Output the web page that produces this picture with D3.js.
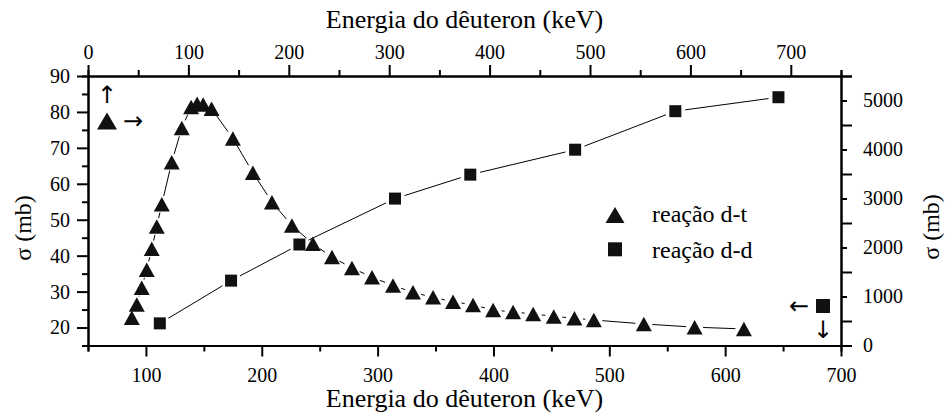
<!DOCTYPE html>
<html lang="pt">
<head>
<meta charset="UTF-8">
<title>Seção de choque d-t e d-d</title>
<script src="https://d3js.org/d3.v7.min.js"></script>
<style>
    body { margin: 0; background: #fff; }
    svg { display: block; font-family: "Liberation Serif", "Times New Roman", Tinos, "DejaVu Serif", serif; }
    .axis path, .axis line { stroke: #000; stroke-width: 2; }
    .axis text { font-family: "Liberation Serif", "Times New Roman", Tinos, "DejaVu Serif", serif; font-size: 20px; fill: #000; }
    .title { font-family: "Liberation Serif", "Times New Roman", Tinos, "DejaVu Serif", serif; fill: #000; }
    .arrow { font-family: "DejaVu Sans", sans-serif; font-size: 24px; fill: #000; }
</style>
</head>
<body>
<svg id="chart"></svg>
<script>
// reação d-t (eixo superior / eixo esquerdo)
const dtEnergy = [43.6, 48.6, 53.5, 58.5, 63.5, 68.5, 73.5, 83.4, 93.4, 102.7, 108.7, 114.7, 123.1,
    144.3, 164.2, 183.2, 203.1, 224, 243, 262.9, 282.9, 303.8, 323.7, 343.7, 363.6, 383.5,
    403.5, 423.4, 443.4, 463.9, 484.5, 503.8, 553.6, 604.2, 653.3];
const dtSigma = [22.7, 26.4, 31.1, 36.1, 41.9, 48.1, 54.3, 66.0, 75.5, 81.4, 82.3, 82.1, 80.9,
    72.6, 63.1, 54.9, 48.4, 43.3, 39.6, 36.6, 34.0, 31.7, 29.8, 28.4, 27.2, 26.3,
    24.9, 24.3, 23.8, 23.1, 22.6, 22.1, 21.0, 20.1, 19.6];

// reação d-d (eixo inferior / eixo direito)
const ddEnergy = [112, 173.5, 232.5, 315, 380, 470.5, 557, 646];
const ddSigma = [452, 1324, 2061, 2998, 3487, 3996, 4782, 5067];

// ticks
const bottomTicks = [100, 200, 300, 400, 500, 600, 700];
const topTicks = [0, 100, 200, 300, 400, 500, 600, 700];
const leftTicks = [20, 30, 40, 50, 60, 70, 80, 90];
const rightTicks = [0, 1000, 2000, 3000, 4000, 5000];

const W = 945, H = 417;
const m = { left: 88, right: 104, top: 76, bottom: 71.5 };
const iw = W - m.left - m.right, ih = H - m.top - m.bottom;

const svg = d3.select("#chart").attr("width", W).attr("height", H);
const g = svg.append("g").attr("transform", `translate(${m.left},${m.top})`);

const xBottom = d3.scaleLinear().domain([50, 700]).range([0, iw]);
const xTop = d3.scaleLinear().domain([0, 750]).range([0, iw]);
const yLeft = d3.scaleLinear().domain([15, 90]).range([ih, 0]);
const yRight = d3.scaleLinear().domain([0, 5500]).range([ih, 0]);

const MAJ = 11, MIN = 6;
const fmt = d3.format("d");

// eixos: menores primeiro, maiores por cima
g.append("g").attr("class", "axis").attr("transform", `translate(0,${ih})`)
    .call(d3.axisBottom(xBottom).tickValues(d3.range(50, 701, 100)).tickSize(MIN).tickFormat(""));
g.append("g").attr("class", "axis").attr("transform", `translate(0,${ih})`)
    .call(d3.axisBottom(xBottom).tickValues(bottomTicks).tickSize(MAJ).tickSizeOuter(0).tickPadding(11).tickFormat(fmt));

g.append("g").attr("class", "axis")
    .call(d3.axisTop(xTop).tickValues(d3.range(50, 751, 100)).tickSize(MIN).tickFormat(""));
g.append("g").attr("class", "axis")
    .call(d3.axisTop(xTop).tickValues(topTicks).tickSize(MAJ).tickSizeOuter(0).tickPadding(6).tickFormat(fmt));

g.append("g").attr("class", "axis")
    .call(d3.axisLeft(yLeft).tickValues(d3.range(15, 90, 10)).tickSize(MIN).tickFormat(""));
g.append("g").attr("class", "axis")
    .call(d3.axisLeft(yLeft).tickValues(leftTicks).tickSize(MAJ).tickSizeOuter(0).tickPadding(7).tickFormat(fmt));

// eixo direito: ticks rotulados curtos, intermediários longos
g.append("g").attr("class", "axis").attr("transform", `translate(${iw},0)`)
    .call(d3.axisRight(yRight).tickValues(d3.range(500, 5501, 1000)).tickSize(MAJ).tickFormat(""));
g.append("g").attr("class", "axis").attr("transform", `translate(${iw},0)`)
    .call(d3.axisRight(yRight).tickValues(rightTicks).tickSize(MIN).tickSizeOuter(0).tickPadding(16).tickFormat(fmt));

g.selectAll(".axis").attr("font-family", null).attr("font-size", null);

// títulos
svg.append("text").attr("class", "title").attr("x", m.left + iw / 2).attr("y", 28)
    .attr("text-anchor", "middle").style("font-size", "26px").text("Energia do dêuteron (keV)");
svg.append("text").attr("class", "title").attr("x", m.left + iw / 2).attr("y", 407)
    .attr("text-anchor", "middle").style("font-size", "26px").text("Energia do dêuteron (keV)");
svg.append("text").attr("class", "title").attr("transform", "translate(31,228) rotate(-90)")
    .attr("text-anchor", "middle").style("font-size", "24px").text("σ (mb)");
svg.append("text").attr("class", "title").attr("transform", "translate(939,227) rotate(-90)")
    .attr("text-anchor", "middle").style("font-size", "24px").text("σ (mb)");

// símbolos
function triPath(w, h) {
    const p = d3.path();
    p.moveTo(0, -h / 2); p.lineTo(w / 2, h / 2); p.lineTo(-w / 2, h / 2); p.closePath();
    return p.toString();
}

// linhas com intervalo junto aos símbolos
function gappedSegments(pts, gap) {
    const segs = [];
    for (let i = 0; i < pts.length - 1; i++) {
        const [x1, y1] = pts[i], [x2, y2] = pts[i + 1];
        const d = Math.hypot(x2 - x1, y2 - y1);
        if (d <= 2 * gap) continue;
        const ux = (x2 - x1) / d, uy = (y2 - y1) / d;
        segs.push([x1 + ux * gap, y1 + uy * gap, x2 - ux * gap, y2 - uy * gap]);
    }
    return segs;
}

const dtPts = dtEnergy.map((e, i) => [xTop(e), yLeft(dtSigma[i])]);
const ddPts = ddEnergy.map((e, i) => [xBottom(e), yRight(ddSigma[i])]);

g.selectAll(".dt-line").data(gappedSegments(dtPts, 8.5)).join("line")
    .attr("x1", d => d[0]).attr("y1", d => d[1]).attr("x2", d => d[2]).attr("y2", d => d[3])
    .attr("stroke", "#000").attr("stroke-width", 1);
g.selectAll(".dd-line").data(gappedSegments(ddPts, 10)).join("line")
    .attr("x1", d => d[0]).attr("y1", d => d[1]).attr("x2", d => d[2]).attr("y2", d => d[3])
    .attr("stroke", "#000").attr("stroke-width", 1);

g.selectAll(".dt").data(dtPts).join("path").attr("class", "dt")
    .attr("d", triPath(16, 14.5))
    .attr("transform", d => `translate(${d[0]},${d[1]})`)
    .attr("fill", "#111");

const sq = 12;
g.selectAll(".dd").data(ddPts).join("rect").attr("class", "dd")
    .attr("x", d => d[0] - sq / 2).attr("y", d => d[1] - sq / 2)
    .attr("width", sq).attr("height", sq).attr("fill", "#111");

// legenda
const leg = svg.append("g").attr("transform", "translate(615,215)");
leg.append("path").attr("d", triPath(19, 16)).attr("fill", "#111");
leg.append("text").attr("class", "title").attr("x", 37).attr("y", 7)
    .style("font-size", "24px").text("reação d-t");
leg.append("rect").attr("x", -7).attr("y", 34.3 - 7).attr("width", 14).attr("height", 14).attr("fill", "#111");
leg.append("text").attr("class", "title").attr("x", 37).attr("y", 43.3)
    .style("font-size", "24px").text("reação d-d");

// indicadores de eixo
const aT = svg.append("g").attr("transform", "translate(107,121)");
aT.append("path").attr("d", triPath(20, 17)).attr("fill", "#111");
aT.append("text").attr("class", "arrow").attr("x", 0).attr("y", -26)
    .attr("text-anchor", "middle").attr("dominant-baseline", "central").text("↑");
aT.append("text").attr("class", "arrow").attr("x", 26).attr("y", 0)
    .attr("text-anchor", "middle").attr("dominant-baseline", "central").text("→");

const aS = svg.append("g").attr("transform", "translate(823,306)");
aS.append("rect").attr("x", -7).attr("y", -7).attr("width", 14).attr("height", 14).attr("fill", "#111");
aS.append("text").attr("class", "arrow").attr("x", -24).attr("y", 0)
    .attr("text-anchor", "middle").attr("dominant-baseline", "central").text("←");
aS.append("text").attr("class", "arrow").attr("x", 0).attr("y", 24)
    .attr("text-anchor", "middle").attr("dominant-baseline", "central").text("↓");
</script>
</body>
</html>
